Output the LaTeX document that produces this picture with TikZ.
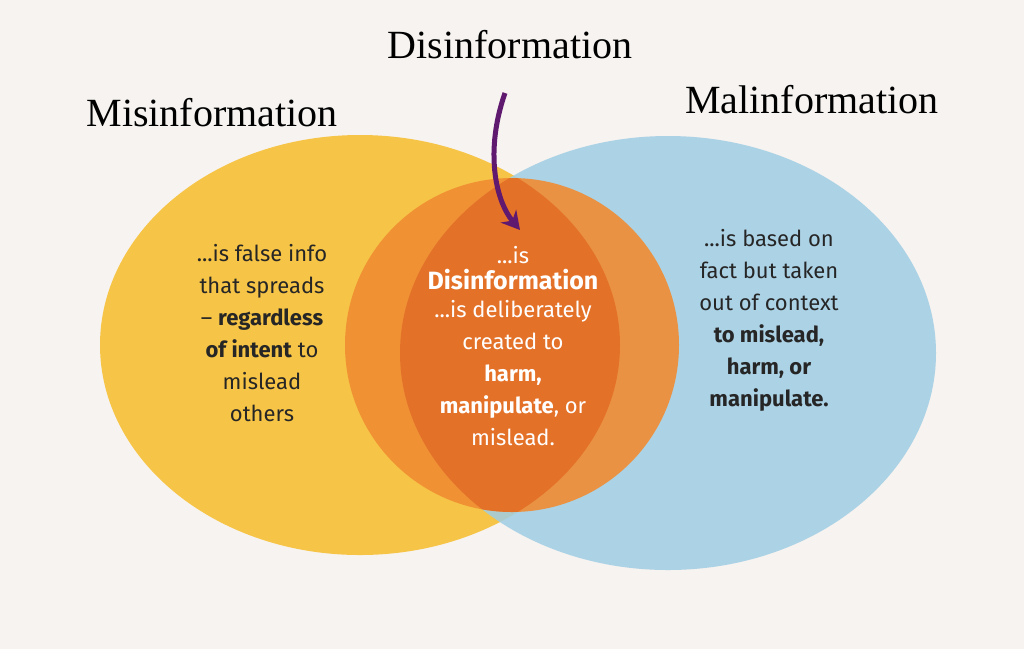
\documentclass[tikz,border=0pt]{standalone}
\usepackage{fontspec}
\setmainfont{Liberation Serif}
\newfontfamily\bodyfont{Fira Sans}
\usetikzlibrary{arrows.meta}
\definecolor{vyel}{RGB}{246,196,70}
\definecolor{vblu}{RGB}{160,205,228}
\definecolor{vora}{RGB}{240,140,50}
\definecolor{vlen}{RGB}{226,100,30}
\definecolor{vpur}{RGB}{95,25,110}
\definecolor{vbg}{RGB}{246,243,240}
\tikzset{
	every node/.style = { align = center },
	head/.style = { font=\fontsize{40}{42}\selectfont },
	body/.style = { font=\bodyfont\fontsize{22}{32}\selectfont, text=black!85 },
	wbody/.style = { body, text=white },
}
\begin{document}
\begin{tikzpicture}[x=1pt,y=-1pt]
\fill[vbg] (0,0) rectangle (1024,649);
\useasboundingbox (0,0) rectangle (1024,649);

% circles
\fill[vyel] (360,345) ellipse [x radius=260, y radius=210];
\fill[vblu, opacity=.85] (668,353) ellipse [x radius=268, y radius=217];
\fill[vora, opacity=.9] (512,345) circle [radius=167];
\begin{scope}
	\clip (360,345) ellipse [x radius=260, y radius=210];
	\clip (668,353) ellipse [x radius=268, y radius=217];
	\fill[vlen, opacity=.7] (512,345) circle [radius=167];
\end{scope}

% titles
\node (mis)  [head] at (212,113) {Misinformation};
\node (dis)  [head] at (510,45)  {Disinformation};
\node (mal)  [head] at (812,100) {Malinformation};

% texts
\node (tmis) [body] at (262,333) {...is false info\\that spreads\\– \textbf{regardless}\\\textbf{of intent} to\\mislead\\others};
\node (tdis) [wbody] at (513,346) {...is\\[-6pt]{\fontsize{25}{30}\selectfont\textbf{Disinformation}}\\[-4pt]...is deliberately\\created to\\\textbf{harm,}\\\textbf{manipulate}, or\\mislead.};
\node (tmal) [body] at (769,320) {...is based on\\fact but taken\\out of context\\\textbf{to mislead,}\\\textbf{harm, or}\\\textbf{manipulate.}};

\coordinate (arr) at (520,230);
\draw[vpur, line width=5pt, -{Stealth[length=18pt,width=20pt]}] (505,93) .. controls (485,150) and (495,200) .. (arr);
\end{tikzpicture}
\end{document}
